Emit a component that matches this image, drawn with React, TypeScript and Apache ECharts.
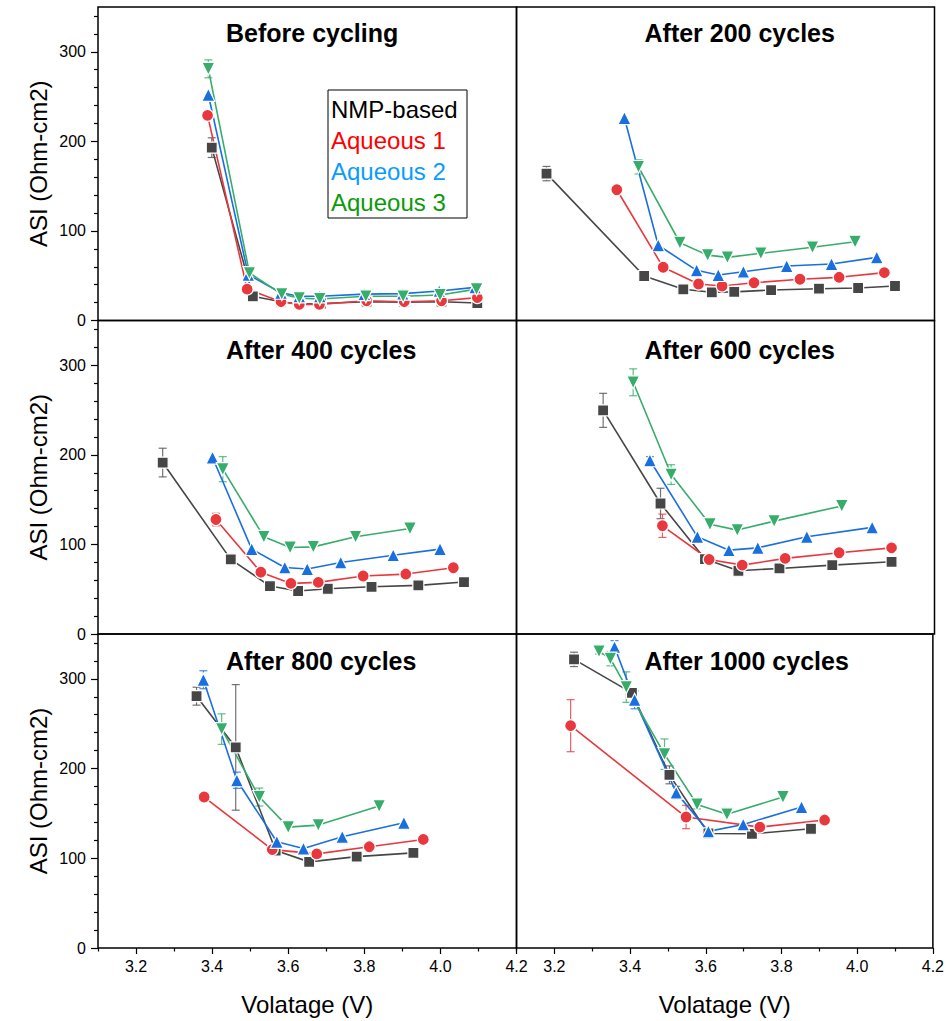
import React, { useEffect, useRef } from 'react';
import * as echarts from 'echarts';

const panelTitles = ['Before cycling', 'After 200 cycles', 'After 400 cycles', 'After 600 cycles', 'After 800 cycles', 'After 1000 cycles'];
const seriesNames = ['NMP-based', 'Aqueous 1', 'Aqueous 2', 'Aqueous 3'];
const xTickValues = [3.2, 3.4, 3.6, 3.8, 4.0, 4.2];
const xMinorTickValues = [3.1, 3.3, 3.5, 3.7, 3.9, 4.1];
const yTickValues = [0, 100, 200, 300];
const yMinorTickValues = [20, 40, 60, 80, 120, 140, 160, 180, 220, 240, 260, 280, 320, 340];

// each point: [voltage (V), ASI (Ohm-cm2), error bar half-height]
const before_NMP = [[3.399, 193, 11], [3.507, 27, 0], [3.581, 21, 0], [3.629, 18.5, 0], [3.686, 19, 0], [3.806, 21, 0], [3.905, 20.5, 0], [4.003, 21, 0], [4.097, 19.5, 0]];
const before_Aq1 = [[3.388, 229, 0], [3.492, 35, 0], [3.581, 21, 0], [3.629, 18, 0], [3.682, 18, 0], [3.806, 22, 0], [3.905, 21, 0], [4.003, 22, 0], [4.097, 25.5, 0]];
const before_Aq2 = [[3.39, 252, 0], [3.495, 51, 0], [3.581, 31, 0], [3.629, 27, 0], [3.683, 27, 0], [3.8, 29.5, 0], [3.901, 30, 0], [3.997, 33, 0], [4.091, 37, 0]];
const before_Aq3 = [[3.39, 281, 10], [3.498, 53, 0], [3.583, 29.5, 0], [3.629, 25, 0], [3.683, 24, 0], [3.804, 27, 0], [3.902, 27, 0], [3.999, 28.5, 0], [4.095, 35, 0]];

const c200_NMP = [[3.179, 164, 8], [3.436, 49.7, 0], [3.539, 34.8, 0], [3.614, 31.5, 0], [3.673, 32, 0], [3.77, 34, 0], [3.896, 35.5, 0], [3.999, 36.3, 0], [4.096, 38.5, 0]];
const c200_Aq1 = [[3.364, 146, 0], [3.486, 59.4, 0], [3.579, 40.7, 0], [3.641, 38.5, 0], [3.725, 42.2, 0], [3.846, 46, 0], [3.949, 48.2, 0], [4.068, 53.4, 0]];
const c200_Aq2 = [[3.384, 226, 0], [3.473, 84, 0], [3.574, 56, 0], [3.631, 50.8, 0], [3.697, 54.5, 0], [3.811, 60.8, 0], [3.929, 63, 0], [4.048, 70.5, 0]];
const c200_Aq3 = [[3.421, 171.6, 8], [3.53, 86.8, 0], [3.603, 73, 0], [3.655, 70.5, 0], [3.743, 75, 0], [3.879, 81.7, 0], [3.991, 88, 0]];

const c400_NMP = [[3.27, 191.4, 16], [3.449, 83.3, 0], [3.552, 53.5, 0], [3.626, 48, 0], [3.704, 50.5, 0], [3.819, 52.7, 0], [3.942, 54.3, 0], [4.062, 58, 0]];
const c400_Aq1 = [[3.41, 127.8, 7], [3.528, 69, 0], [3.607, 56.5, 0], [3.679, 57.6, 0], [3.797, 64.7, 0], [3.909, 66.9, 0], [4.034, 74, 0]];
const c400_Aq2 = [[3.401, 197, 0], [3.504, 94.8, 0], [3.591, 74.3, 0], [3.65, 72.5, 0], [3.738, 79.9, 0], [3.876, 88, 0], [3.999, 94.8, 0]];
const c400_Aq3 = [[3.428, 184, 14], [3.536, 108.5, 0], [3.605, 96.6, 0], [3.666, 97.3, 0], [3.777, 108.5, 0], [3.92, 117.8, 0]];

const c600_NMP = [[3.328, 249.7, 19], [3.479, 145.7, 17], [3.596, 83.6, 0], [3.684, 70.6, 0], [3.792, 73.2, 0], [3.931, 76.9, 0], [4.087, 80.6, 0]];
const c600_Aq1 = [[3.484, 120.8, 13], [3.607, 83.2, 0], [3.694, 76.9, 0], [3.807, 84.4, 0], [3.949, 90.7, 0], [4.087, 96.2, 0]];
const c600_Aq2 = [[3.451, 194, 4], [3.576, 108.5, 0], [3.659, 93.6, 0], [3.735, 96.2, 0], [3.864, 108.5, 0], [4.036, 119, 0]];
const c600_Aq3 = [[3.407, 281, 15], [3.507, 178, 11], [3.609, 122.6, 0], [3.681, 116, 0], [3.778, 126, 0], [3.956, 143, 0]];

const c800_NMP = [[3.359, 280.7, 10], [3.462, 223.6, 70], [3.567, 108.6, 0], [3.655, 96, 0], [3.78, 101.9, 0], [3.929, 106, 0]];
const c800_Aq1 = [[3.379, 168.3, 0], [3.558, 109.7, 0], [3.675, 104.9, 0], [3.813, 112.8, 0], [3.955, 121, 0]];
const c800_Aq2 = [[3.377, 299, 10], [3.465, 187, 9], [3.57, 118.4, 0], [3.64, 110.9, 0], [3.742, 124, 0], [3.904, 139.6, 0]];
const c800_Aq3 = [[3.425, 244, 17], [3.524, 168.3, 10], [3.6, 134.7, 0], [3.679, 137, 0], [3.839, 158.2, 0]];

const c1000_NMP = [[3.252, 321.7, 8], [3.405, 284.4, 0], [3.504, 193, 10], [3.607, 127.7, 0], [3.722, 127.3, 0], [3.878, 132.9, 0]];
const c1000_Aq1 = [[3.243, 247.8, 29], [3.548, 146, 13], [3.743, 134.7, 0], [3.914, 142.6, 0]];
const c1000_Aq2 = [[3.359, 335.6, 7], [3.412, 276.6, 10], [3.522, 173.2, 7], [3.607, 130, 0], [3.699, 137.7, 0], [3.853, 157.1, 0]];
const c1000_Aq3 = [[3.318, 330.7, 3], [3.348, 322.5, 8], [3.39, 290.8, 17], [3.491, 216, 17], [3.577, 160, 5], [3.656, 149, 0], [3.804, 168.3, 0]];

const panelData = [
  [before_NMP, before_Aq1, before_Aq2, before_Aq3],
  [c200_NMP, c200_Aq1, c200_Aq2, c200_Aq3],
  [c400_NMP, c400_Aq1, c400_Aq2, c400_Aq3],
  [c600_NMP, c600_Aq1, c600_Aq2, c600_Aq3],
  [c800_NMP, c800_Aq1, c800_Aq2, c800_Aq3],
  [c1000_NMP, c1000_Aq1, c1000_Aq2, c1000_Aq3],
];

const FONT = '"Liberation Sans", Arial, Helvetica, sans-serif';
const markerColors = ['#464646', '#e8383d', '#1a6fdf', '#37ad6b'];
const errColors = ['rgba(90,90,90,0.85)', 'rgba(232,56,61,0.8)', 'rgba(26,111,223,0.8)', 'rgba(55,173,107,0.8)'];
const legendColors = ['#000000', '#ff0000', '#0a9bff', '#0a9a0a'];
const symbols = ['rect', 'circle', 'triangle', 'triangle'];
const symbolSizes = [11, 12, 13, 13];
const symbolRotates = [0, 0, 0, 180];

const colLeft = [98, 516.5];
const colWidth = [418.5, 418];
const rowTop = [7, 320.5, 634];
const rowHeight = [313.5, 313.5, 314];

function buildOption() {
  const grid: any[] = [];
  const xAxis: any[] = [];
  const yAxis: any[] = [];
  const series: any[] = [];
  const graphic: any[] = [];

  panelData.forEach((groups, p) => {
    const r = Math.floor(p / 2);
    const c = p % 2;
    grid.push({
      left: colLeft[c], top: rowTop[r], width: colWidth[c], height: rowHeight[r],
      show: true, borderColor: '#000', borderWidth: 1.5, backgroundColor: 'rgba(0,0,0,0)',
    });
    const bottom = r === 2;
    const left = c === 0;
    xAxis.push({
      type: 'value', gridIndex: p, min: 3.1, max: 4.2, position: 'bottom',
      axisLine: { show: false }, splitLine: { show: false },
      axisTick: { show: bottom, length: 6, customValues: xTickValues, lineStyle: { color: '#000', width: 1.2 } },
      axisLabel: { show: bottom, customValues: xTickValues, formatter: (v: number) => v.toFixed(1), fontSize: 16, color: '#000', fontFamily: FONT, margin: 10 },
      name: bottom ? 'Volatage (V)' : '', nameLocation: 'middle', nameGap: 44,
      nameTextStyle: { fontSize: 24, color: '#000', fontFamily: FONT },
    });
    xAxis.push({
      type: 'value', gridIndex: p, min: 3.1, max: 4.2, position: 'bottom',
      axisLine: { show: false }, splitLine: { show: false }, axisLabel: { show: false },
      axisTick: { show: bottom, length: 3.5, customValues: xMinorTickValues, lineStyle: { color: '#000', width: 1.2 } },
    });
    yAxis.push({
      type: 'value', gridIndex: p, min: 0, max: 350, position: 'left',
      axisLine: { show: false }, splitLine: { show: false },
      axisTick: { show: left, length: 7, customValues: yTickValues, lineStyle: { color: '#000', width: 1.2 } },
      axisLabel: { show: left, customValues: yTickValues, fontSize: 16, color: '#000', fontFamily: FONT, margin: 12 },
      name: left ? 'ASI (Ohm-cm2)' : '', nameLocation: 'middle', nameGap: 48, nameRotate: 90,
      nameTextStyle: { fontSize: 24, color: '#000', fontFamily: FONT },
    });
    yAxis.push({
      type: 'value', gridIndex: p, min: 0, max: 350, position: 'left',
      axisLine: { show: false }, splitLine: { show: false }, axisLabel: { show: false },
      axisTick: { show: left, length: 4, customValues: yMinorTickValues, lineStyle: { color: '#000', width: 1.2 } },
    });

    groups.forEach((pts, g) => {
      series.push({
        type: 'custom', name: seriesNames[g] + ' error', xAxisIndex: 2 * p, yAxisIndex: 2 * p,
        data: pts.filter((d) => d[2] > 0), silent: true, z: 1,
        renderItem: (params: any, api: any) => {
          const xv = api.value(0), yv = api.value(1), e = api.value(2);
          const top = api.coord([xv, yv + e]);
          const bot = api.coord([xv, yv - e]);
          const w = 4;
          const st = { stroke: errColors[g], lineWidth: 1.2 };
          return {
            type: 'group',
            children: [
              { type: 'line', shape: { x1: top[0], y1: top[1], x2: bot[0], y2: bot[1] }, style: st },
              { type: 'line', shape: { x1: top[0] - w, y1: top[1], x2: top[0] + w, y2: top[1] }, style: st },
              { type: 'line', shape: { x1: bot[0] - w, y1: bot[1], x2: bot[0] + w, y2: bot[1] }, style: st },
            ],
          };
        },
      });
    });
    groups.forEach((pts, g) => {
      series.push({
        type: 'line', name: seriesNames[g], xAxisIndex: 2 * p, yAxisIndex: 2 * p,
        data: pts.map((d) => [d[0], d[1]]),
        symbol: symbols[g], symbolSize: symbolSizes[g], symbolRotate: symbolRotates[g],
        showSymbol: true, clip: false, z: 3,
        lineStyle: { color: markerColors[g], width: 1.6 },
        itemStyle: { color: markerColors[g], borderColor: '#ffffff', borderWidth: 1.2 },
        emphasis: { disabled: true },
      });
    });

    const titleY = [33, 350, 661][r];
    graphic.push({
      type: 'text', x: colLeft[c] + 128, y: titleY, z: 10,
      style: { text: panelTitles[p], font: 'bold 25px ' + FONT, fill: '#000', align: 'left', verticalAlign: 'middle' },
    });
  });

  graphic.push({
    type: 'rect', shape: { x: 328, y: 90, width: 139, height: 128 }, z: 10,
    style: { fill: '#ffffff', stroke: '#000', lineWidth: 1 },
  });
  seriesNames.forEach((n, i) => {
    graphic.push({
      type: 'text', x: 331, y: 109 + i * 31, z: 11,
      style: { text: n, font: '24px ' + FONT, fill: legendColors[i], align: 'left', verticalAlign: 'middle' },
    });
  });

  return { animation: false, backgroundColor: '#ffffff', grid, xAxis, yAxis, series, graphic };
}

export default function App() {
  const ref = useRef<HTMLDivElement>(null);
  useEffect(() => {
    if (!ref.current) return;
    const chart = echarts.init(ref.current, null, { renderer: 'svg' });
    chart.setOption(buildOption() as any);
    return () => chart.dispose();
  }, []);
  return <div ref={ref} style={{ position: 'absolute', left: 0, top: 0, width: 947, height: 1021, background: '#fff' }} />;
}
